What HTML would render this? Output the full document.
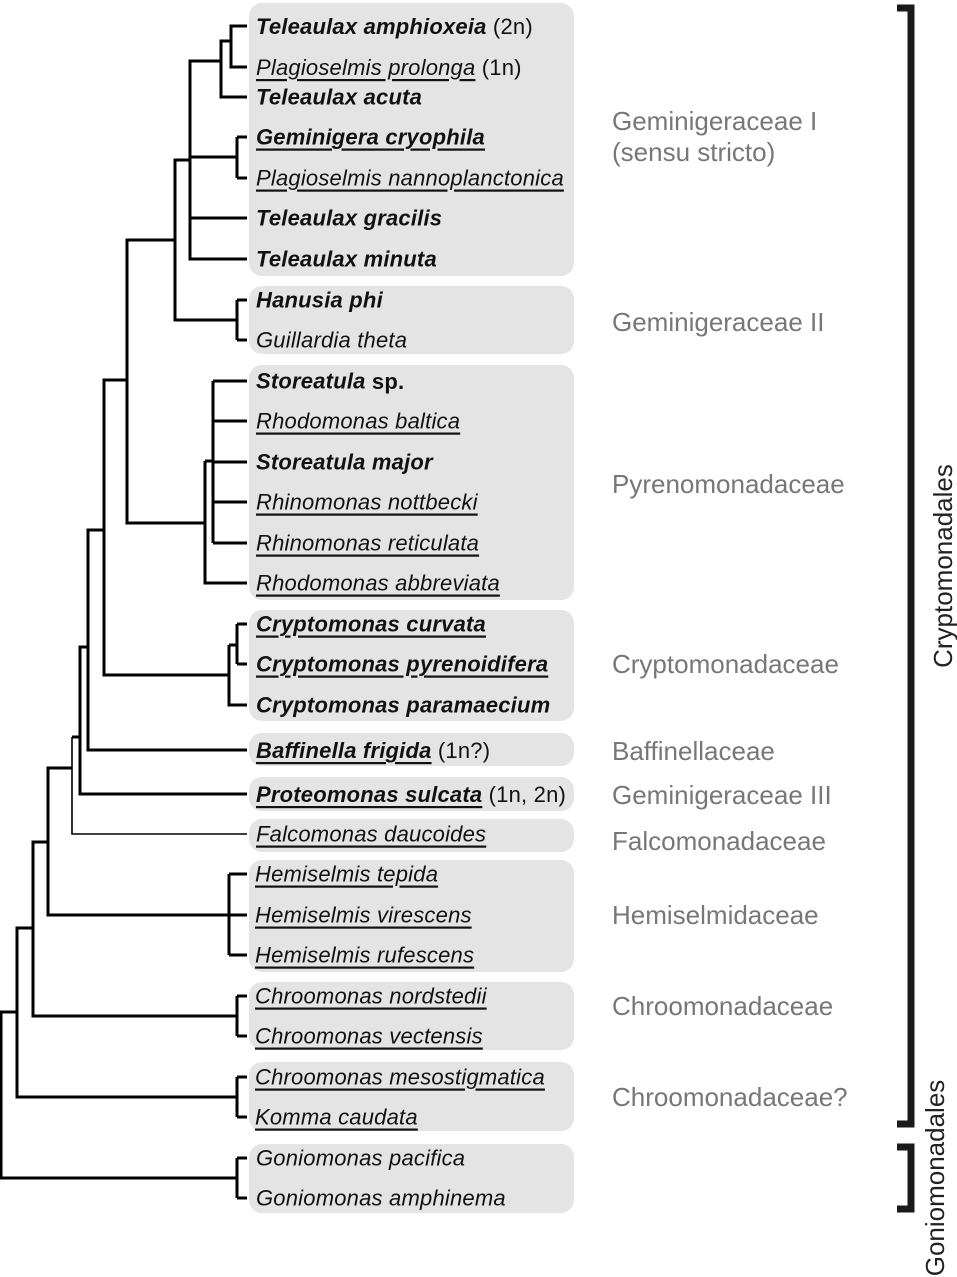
<!DOCTYPE html>
<html><head><meta charset="utf-8"><style>
html,body{margin:0;padding:0;background:#fff;}
svg{display:block;}
.l{font-family:"Liberation Sans",Arial,sans-serif;font-size:22px;letter-spacing:0.2px;fill:#111;font-style:italic;}
.b{font-weight:bold;}
.u{text-decoration:underline;}
.n{font-style:normal;font-weight:normal;}
.g{font-family:"Liberation Sans",Arial,sans-serif;font-size:26px;fill:#777;}
.o{font-family:"Liberation Sans",Arial,sans-serif;font-size:26px;fill:#222;}
</style></head><body>
<svg width="957" height="1277" viewBox="0 0 957 1277" xmlns="http://www.w3.org/2000/svg">
<g fill="#e4e4e4">
<rect x="249" y="3" width="325" height="273" rx="13"/>
<rect x="249" y="286" width="325" height="68" rx="13"/>
<rect x="249" y="365" width="325" height="235" rx="13"/>
<rect x="249" y="610" width="325" height="111" rx="13"/>
<rect x="249" y="733" width="325" height="33" rx="13"/>
<rect x="249" y="777" width="325" height="34" rx="13"/>
<rect x="249" y="819" width="325" height="33" rx="13"/>
<rect x="249" y="860" width="325" height="112" rx="13"/>
<rect x="249" y="982" width="325" height="68" rx="13"/>
<rect x="249" y="1062" width="325" height="69" rx="13"/>
<rect x="249" y="1144" width="325" height="69" rx="13"/>
</g>
<g stroke="#000" stroke-width="3" fill="none">
<path d="M247 26H231V67H247M231 41H221V97H247M221 61H190V259H247M190 157H237M237 137V178M237 137H247M237 178H247M190 218H247"/>
<path d="M190 160H175V320H237M237 300V340M237 300H247M237 340H247"/>
<path d="M175 240H127V523H205M213 381V543M213 381H247M213 421H247M213 462H247M213 502H247M213 543H247M205 461V583H247M205 461H213"/>
<path d="M127 380H104V675H229M229 645V705H247M229 645H237M237 624V664M237 624H247M237 664H247"/>
<path d="M104 530H88V750H247M88 647H80V794H247"/>
<path d="M80 737H72" />
<path d="M72 768H48V915H247M229 874V955M229 874H247M229 955H247"/>
<path d="M48 842H33V1016H237M237 996V1036M237 996H247M237 1036H247"/>
<path d="M33 928H17V1097H237M237 1077V1117M237 1077H247M237 1117H247"/>
<path d="M17 1012H1V1178H237M237 1158V1198M237 1158H247M237 1198H247"/>
</g>
<path d="M72 737V834H247" stroke="#000" stroke-width="1.6" fill="none"/>
<g stroke="#1a1a1a" stroke-width="7" fill="none">
<path d="M897 8H911V1124H897"/>
<path d="M897 1147H911V1209H897"/>
</g>
<text class="o" transform="translate(952,566) rotate(-90)" text-anchor="middle">Cryptomonadales</text>
<text class="o" transform="translate(944,1178) rotate(-90)" text-anchor="middle">Goniomonadales</text>
<g class="l" dominant-baseline="central">
<text x="256" y="26"><tspan class="b">Teleaulax amphioxeia</tspan><tspan class="n"> (2n)</tspan></text>
<text x="256" y="67"><tspan class="u">Plagioselmis prolonga</tspan><tspan class="n"> (1n)</tspan></text>
<text x="256" y="97" class="b">Teleaulax acuta</text>
<text x="256" y="137" class="b u">Geminigera cryophila</text>
<text x="256" y="178" class="u">Plagioselmis nannoplanctonica</text>
<text x="256" y="218" class="b">Teleaulax gracilis</text>
<text x="256" y="259" class="b">Teleaulax minuta</text>
<text x="256" y="300" class="b">Hanusia phi</text>
<text x="256" y="340">Guillardia theta</text>
<text x="256" y="381" class="b">Storeatula <tspan style="font-style:normal">sp.</tspan></text>
<text x="256" y="421" class="u">Rhodomonas baltica</text>
<text x="256" y="462" class="b">Storeatula major</text>
<text x="256" y="502" class="u">Rhinomonas nottbecki</text>
<text x="256" y="543" class="u">Rhinomonas reticulata</text>
<text x="256" y="583" class="u">Rhodomonas abbreviata</text>
<text x="256" y="624" class="b u">Cryptomonas curvata</text>
<text x="256" y="664" class="b u">Cryptomonas pyrenoidifera</text>
<text x="256" y="705" class="b">Cryptomonas paramaecium</text>
<text x="256" y="750"><tspan class="b u">Baffinella frigida</tspan><tspan class="n"> (1n?)</tspan></text>
<text x="256" y="794"><tspan class="b u">Proteomonas sulcata</tspan><tspan class="n"> (1n, 2n)</tspan></text>
<text x="256" y="834" class="u">Falcomonas daucoides</text>
<text x="255" y="874" class="u">Hemiselmis tepida</text>
<text x="255" y="915" class="u">Hemiselmis virescens</text>
<text x="255" y="955" class="u">Hemiselmis rufescens</text>
<text x="255" y="996" class="u">Chroomonas nordstedii</text>
<text x="255" y="1036" class="u">Chroomonas vectensis</text>
<text x="255" y="1077" class="u">Chroomonas mesostigmatica</text>
<text x="255" y="1117" class="u">Komma caudata</text>
<text x="256" y="1158">Goniomonas pacifica</text>
<text x="256" y="1198">Goniomonas amphinema</text>
</g>
<g class="g" dominant-baseline="central">
<text x="612" y="121">Geminigeraceae I</text>
<text x="612" y="152">(sensu stricto)</text>
<text x="612" y="322">Geminigeraceae II</text>
<text x="612" y="484">Pyrenomonadaceae</text>
<text x="612" y="664">Cryptomonadaceae</text>
<text x="612" y="751">Baffinellaceae</text>
<text x="612" y="795">Geminigeraceae III</text>
<text x="612" y="841">Falcomonadaceae</text>
<text x="612" y="915">Hemiselmidaceae</text>
<text x="612" y="1006">Chroomonadaceae</text>
<text x="612" y="1097">Chroomonadaceae?</text>
</g>
</svg>
</body></html>
